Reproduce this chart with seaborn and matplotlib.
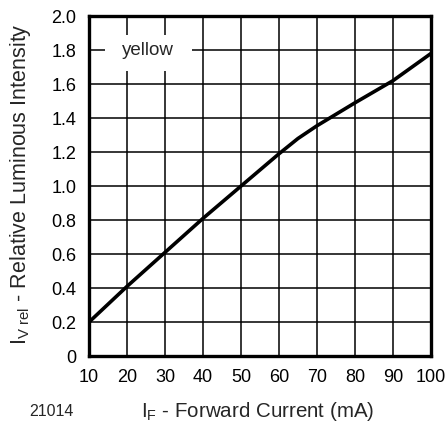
import matplotlib
matplotlib.use("Agg")
import matplotlib.pyplot as plt
from matplotlib.patches import Rectangle
import seaborn as sns
import pandas as pd

current_mA = [10, 20, 30, 40, 50, 60, 65, 70, 80, 90, 100]
iv_rel = [0.20, 0.41, 0.61, 0.81, 1.00, 1.19, 1.28, 1.355, 1.49, 1.62, 1.78]
x_ticks = [10, 20, 30, 40, 50, 60, 70, 80, 90, 100]
y_ticks = [0, 0.2, 0.4, 0.6, 0.8, 1.0, 1.2, 1.4, 1.6, 1.8, 2.0]
y_tick_labels = ["0", "0.2", "0.4", "0.6", "0.8", "1.0", "1.2", "1.4", "1.6", "1.8", "2.0"]

sns.set_style("white")
plt.rcParams['font.family'] = ['Liberation Sans', 'DejaVu Sans']
plt.rcParams['mathtext.fontset'] = 'custom'
plt.rcParams['mathtext.rm'] = 'Liberation Sans'
plt.rcParams['mathtext.it'] = 'Liberation Sans'

df = pd.DataFrame({"I": current_mA, "Iv": iv_rel})

fig = plt.figure(figsize=(4.47, 4.24), dpi=100)
ax = fig.add_axes([0.199, 0.160, 0.765, 0.802])
sns.lineplot(data=df, x="I", y="Iv", ax=ax, color="black", linewidth=2.6, zorder=3)

ax.set_xlim(10, 100)
ax.set_ylim(0, 2.0)
ax.set_xticks(x_ticks)
ax.set_yticks(y_ticks)
ax.set_yticklabels(y_tick_labels)
ax.tick_params(axis='both', length=0, labelsize=13, colors='black')
ax.tick_params(axis='x', pad=9)
ax.tick_params(axis='y', pad=9)
ax.grid(True, color='black', linewidth=1.1)
ax.set_axisbelow(True)
for s in ax.spines.values():
    s.set_linewidth(2.4)
    s.set_color('black')
    s.set_visible(True)
    s.set_zorder(5)

ax.set_xlabel(r"I$_\mathrm{F}$ - Forward Current (mA)", fontsize=14.8)
ax.set_ylabel(r"I$_\mathrm{V\ rel}$ - Relative Luminous Intensity", fontsize=15.5)
ax.xaxis.label.set_va('baseline')
ax.yaxis.label.set_va('baseline')
ax.xaxis.set_label_coords(0.493, -0.179)
ax.yaxis.set_label_coords(-0.184, 0.505)

ax.add_patch(Rectangle((14.2, 1.68), 22.9, 0.21, facecolor='white', edgecolor='none', zorder=2))
ax.text(25.6, 1.8, "yellow", fontsize=13.5, ha='center', va='center', zorder=4)

fig.text(29/447, 1 - 411/424, "21014", fontsize=11.5, ha='left', va='center')

fig.savefig("out.png", dpi=100)
